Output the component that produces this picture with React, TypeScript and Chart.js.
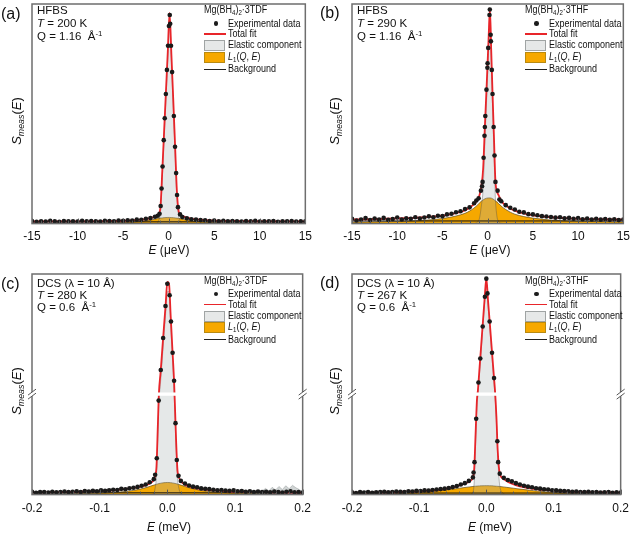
import React, { useEffect, useRef } from "react";
import { Chart, registerables } from "chart.js";

Chart.register(...registerables);

const FONT = '"Liberation Sans", Arial, Helvetica, sans-serif';

// ---------------- Panel (a): HFBS, Mg(BH4)2·3TDF, 200 K ----------------
const gridA = [-15, -12, -9, -7, -5, -4, -3, -2.5, -2, -1.6, -1.3, -1.1, -0.9, -0.7, -0.5, -0.3, -0.1, 0.1, 0.3, 0.5, 0.7, 0.9, 1.1, 1.3, 1.6, 2, 2.5, 3, 4, 5, 7, 9, 12, 15];
const totalA = [0.95, 1.0, 1.05, 1.15, 1.3, 1.5, 1.8, 2.1, 2.5, 3.0, 3.6, 4.4, 7.5, 24, 42, 60, 78, 96, 77, 57, 36, 15, 5.5, 4.2, 3.3, 2.7, 2.2, 1.9, 1.6, 1.4, 1.2, 1.1, 1.0, 1.0];
const elasticA = [0, 0, 0, 0, 0, 0, 0, 0, 0, 0, 0, 1.5, 5, 21, 39, 57, 75, 93, 74, 54, 33, 12.5, 3.5, 0.8, 0, 0, 0, 0, 0, 0, 0, 0, 0, 0];
const l1A = [0.15, 0.2, 0.25, 0.35, 0.5, 0.7, 1.0, 1.3, 1.6, 1.9, 2.2, 2.4, 2.5, 2.6, 2.7, 2.75, 2.8, 2.8, 2.75, 2.7, 2.6, 2.5, 2.4, 2.2, 1.9, 1.6, 1.3, 1.0, 0.7, 0.5, 0.35, 0.25, 0.2, 0.15];
const bgEA = [-15, 15];
const bgSA = [0.8, 0.8];
const expEA = [-15, -14.5, -14, -13.5, -13, -12.5, -12, -11.5, -11, -10.5, -10, -9.5, -9, -8.5, -8, -7.5, -7, -6.5, -6, -5.5, -5, -4.5, -4, -3.5, -3, -2.5, -2, -1.5,
  -1.2, -1.0, -0.88, -0.78, -0.67, -0.54, -0.43, -0.31, -0.19, -0.07, 0.03,
  0.12, 0.17, 0.26, 0.38, 0.57, 0.7, 0.82, 0.92, 1.02, 1.25,
  1.5, 2, 2.5, 3, 3.5, 4, 4.5, 5, 5.5, 6, 6.5, 7, 7.5, 8, 8.5, 9, 9.5, 10, 10.5, 11, 11.5, 12, 12.5, 13, 13.5, 14, 14.5, 15];
const expSA = [1.2, 0.8, 1.1, 0.9, 1.3, 1.0, 0.8, 1.2, 1.0, 1.1, 0.9, 1.3, 1.0, 1.2, 1.1, 0.9, 1.3, 1.2, 1.1, 1.4, 1.3, 1.5, 1.4, 1.8, 1.7, 2.2, 2.5, 3.1,
  3.6, 4.5, 8, 16, 26, 38, 48, 59, 70, 81, 90,
  95, 91, 81, 69, 49, 35, 23, 13, 7.5, 4.2,
  3.0, 2.4, 2.0, 1.8, 1.6, 1.5, 1.2, 1.4, 1.1, 1.3, 1.0, 1.2, 1.1, 0.9, 1.2, 1.0, 1.3, 0.9, 1.1, 1.0, 1.2, 0.8, 1.1, 1.0, 1.2, 0.9, 1.1, 1.0];

// ---------------- Panel (b): HFBS, Mg(BH4)2·3THF, 290 K ----------------
const gridB = [-15, -12, -9, -7, -5, -4, -3, -2.5, -2, -1.6, -1.3, -1.1, -0.9, -0.7, -0.5, -0.3, -0.1, 0.1, 0.25, 0.4, 0.55, 0.7, 0.85, 1.0, 1.2, 1.6, 2, 2.5, 3, 4, 5, 7, 9, 12, 15];
const totalB = [1.9, 2.1, 2.5, 2.9, 3.6, 4.3, 5.3, 6.1, 7.2, 8.5, 9.8, 11, 13, 17, 25, 45, 64, 84, 98, 78, 58, 39, 20, 15, 13, 9.8, 8.3, 6.9, 5.9, 4.6, 3.8, 2.9, 2.4, 2.0, 1.8];
const elasticB = [0, 0, 0, 0, 0, 0, 0, 0, 0, 0, 0.2, 0.8, 2.5, 8, 16, 38, 58, 78, 93, 73, 52, 32, 12, 4, 1, 0.1, 0, 0, 0, 0, 0, 0, 0, 0, 0];
const l1B = [0.6, 0.8, 1.1, 1.5, 2.3, 3.0, 4.0, 4.7, 5.7, 6.8, 7.8, 8.6, 9.4, 10.2, 10.8, 11.3, 11.6, 11.7, 11.7, 11.6, 11.3, 10.9, 10.4, 9.9, 9.1, 7.6, 6.4, 5.2, 4.3, 3.2, 2.5, 1.6, 1.2, 0.9, 0.7];
const bgEB = [-15, 15];
const bgSB = [1.2, 1.2];
const expEB = [-15, -14.5, -14, -13.5, -13, -12.5, -12, -11.5, -11, -10.5, -10, -9.5, -9, -8.5, -8, -7.5, -7, -6.5, -6, -5.5, -5, -4.5, -4, -3.5, -3, -2.5, -2, -1.5,
  -1.25, -1.0, -0.75, -0.62, -0.56, -0.45, -0.35, -0.31, -0.26, -0.13, -0.03, -0.01, 0.06, 0.2, 0.24,
  0.33, 0.36, 0.46, 0.54, 0.66, 0.76, 0.86, 1.1, 1.3,
  1.5, 2, 2.5, 3, 3.5, 4, 4.5, 5, 5.5, 6, 6.5, 7, 7.5, 8, 8.5, 9, 9.5, 10, 10.5, 11, 11.5, 12, 12.5, 13, 13.5, 14, 14.5, 15];
const expSB = [2.2, 1.4, 1.9, 2.5, 1.6, 2.3, 1.8, 2.6, 1.7, 2.1, 2.8, 1.9, 2.4, 2.2, 2.9, 2.3, 2.8, 3.3, 2.9, 3.6, 3.4, 4.2, 4.5, 5.2, 5.6, 6.6, 7.4, 9.3,
  10.5, 11.5, 15, 17, 19, 30, 40, 44, 49, 61, 71, 73, 80, 95, 97.5,
  86, 83, 70, 59, 44, 31, 19, 15, 11,
  10.2, 8.4, 7.2, 6.4, 5.4, 5.1, 4.3, 4.2, 3.8, 3.4, 3.2, 3.0, 2.7, 2.9, 2.4, 2.6, 2.2, 2.5, 2.0, 2.3, 1.9, 2.2, 1.8, 2.1, 1.7, 2.0, 1.6, 1.9];

// ---------------- Panels (c), (d): DCS, lambda = 10 Å ----------------
const gridDCS = [-0.2, -0.16, -0.12, -0.09, -0.07, -0.05, -0.04, -0.03, -0.025, -0.02, -0.018, -0.016, -0.014, -0.0125, -0.01, -0.0075, -0.005, -0.0025, 0, 0.0025, 0.005, 0.0075, 0.01, 0.0115, 0.013, 0.015, 0.017, 0.02, 0.025, 0.03, 0.04, 0.05, 0.07, 0.09, 0.12, 0.16, 0.2];
const tailLeftDCS = [-0.2, -0.194, -0.188, -0.182, -0.176, -0.17, -0.164, -0.158, -0.152, -0.146, -0.14, -0.134, -0.128, -0.122, -0.116, -0.11, -0.104, -0.098, -0.092, -0.086, -0.08, -0.074, -0.068, -0.062, -0.056, -0.05, -0.044, -0.038, -0.032, -0.026, -0.02];
const tailRightDCS = [0.02, 0.026, 0.032, 0.038, 0.044, 0.05, 0.056, 0.062, 0.068, 0.074, 0.08, 0.086, 0.092, 0.098, 0.104, 0.11, 0.116, 0.122, 0.128, 0.134, 0.14, 0.146, 0.152, 0.158, 0.164, 0.17, 0.176, 0.182, 0.188, 0.194, 0.2];

// (c) Mg(BH4)2·3TDF, 280 K
const totalC = [1.0, 1.1, 1.4, 1.8, 2.3, 3.0, 3.6, 4.5, 5.3, 6.7, 8.5, 12.8, 31.4, 45.6, 55.3, 65.6, 76, 86, 96.4, 95.6, 80.7, 65.9, 51.1, 38, 24.4, 11, 8, 6.1, 4.7, 3.9, 3.0, 2.5, 1.9, 1.5, 1.2, 1.0, 0.9];
const elasticC = [0, 0, 0, 0, 0, 0, 0, 0, 0, 0.5, 3, 9, 27, 41.5, 51, 61.5, 72, 82, 92, 92, 77, 62.5, 47, 34, 21, 7.5, 3, 0.6, 0, 0, 0, 0, 0, 0, 0, 0, 0];
const l1C = [0.2, 0.3, 0.5, 0.8, 1.2, 1.9, 2.5, 3.3, 3.8, 4.3, 4.5, 4.7, 4.85, 5.0, 5.15, 5.3, 5.4, 5.45, 5.5, 5.45, 5.4, 5.3, 5.15, 5.05, 4.95, 4.8, 4.6, 4.3, 3.8, 3.3, 2.5, 1.9, 1.2, 0.8, 0.5, 0.3, 0.2];
const bgEC = [-0.2, 0.2];
const bgSC = [0.8, 0.8];
const noiseEC = [0.13, 0.14, 0.145, 0.15, 0.155, 0.16, 0.165, 0.17, 0.175, 0.18, 0.185, 0.19, 0.195, 0.2];
const noiseSC = [0, 1.6, 2.8, 1.7, 3.3, 2.1, 3.7, 2.3, 4.0, 2.7, 4.2, 3.1, 2.3, 1.2];
const tailLeftSC = [1.3, 0.8, 1.1, 1.2, 0.9, 1.3, 1.0, 1.2, 1.4, 1.1, 1.3, 1.5, 1.2, 1.6, 1.4, 1.7, 1.5, 1.9, 1.7, 2.0, 2.2, 2.1, 2.6, 2.4, 2.9, 3.1, 3.5, 4.0, 4.6, 5.6, 7.0];
const peakEC = [-0.018, -0.0156, -0.0128, -0.0097, -0.0062, -0.0027, 0, 0.0034, 0.0054, 0.0078, 0.01, 0.0121, 0.014, 0.0165];
const peakSC = [9, 16.5, 42.6, 56.5, 71, 85.5, 95.6, 90.4, 78.5, 64.3, 51.6, 32.4, 15.7, 8.5];
const tailRightSC = [6.2, 5.0, 4.1, 3.6, 3.3, 2.8, 2.6, 2.5, 2.2, 2.0, 2.1, 1.8, 1.7, 1.9, 1.5, 1.6, 1.3, 1.5, 1.2, 1.4, 1.1, 1.3, 1.0, 1.4, 1.1, 0.9, 1.3, 1.5, 1.0, 1.2, 0.9];

// (d) Mg(BH4)2·3THF, 267 K
const totalD = [0.9, 1.0, 1.3, 1.7, 2.2, 3.3, 4.2, 5.3, 6.0, 7.8, 12, 27.4, 42.9, 47.5, 57.9, 68.3, 78.7, 89, 98.2, 88.1, 78.4, 68.5, 58.6, 52.7, 46.8, 35.5, 19.7, 9.5, 7.3, 6.2, 4.7, 3.7, 2.6, 2.0, 1.4, 1.1, 0.9];
const elasticD = [0, 0, 0, 0, 0, 0, 0, 0, 0, 1, 6, 23, 40, 45, 55.5, 66, 76.5, 87, 95, 86, 76, 66, 56, 50, 44.5, 33, 17, 4, 0.6, 0, 0, 0, 0, 0, 0, 0, 0];
const l1D = [0.1, 0.25, 0.6, 1.2, 1.8, 2.5, 2.9, 3.3, 3.5, 3.7, 3.75, 3.8, 3.85, 3.9, 3.95, 4.0, 4.0, 4.05, 4.05, 4.05, 4.0, 4.0, 3.95, 3.9, 3.85, 3.8, 3.75, 3.7, 3.5, 3.3, 2.9, 2.5, 1.8, 1.2, 0.6, 0.25, 0.1];
const bgED = [-0.2, 0.2];
const bgSD = [0.7, 0.7];
const tailLeftSD = [1.0, 0.7, 1.1, 0.9, 1.2, 0.8, 1.0, 1.1, 1.3, 1.0, 1.2, 1.4, 1.3, 1.2, 1.5, 1.4, 1.7, 1.6, 1.9, 1.8, 2.1, 2.3, 2.5, 2.7, 3.0, 3.4, 3.9, 4.6, 5.2, 6.2, 7.8];
const peakED = [-0.019, -0.0176, -0.0151, -0.0117, -0.009, -0.0054, -0.0021, 0, 0.0017, 0.0049, 0.0085, 0.0115, 0.0164, 0.0176];
const peakSD = [10, 14.7, 34.4, 50.8, 61.7, 76.2, 89.7, 97.9, 91.2, 78.5, 64.3, 52.8, 24.2, 14.7];
const tailRightSD = [9.5, 7.6, 6.6, 6.0, 5.2, 4.6, 4.0, 3.6, 3.3, 2.9, 2.7, 2.4, 2.3, 2.0, 1.9, 1.7, 1.6, 1.5, 1.3, 1.4, 1.2, 1.1, 1.3, 1.0, 1.1, 0.9, 1.0, 1.2, 0.8, 1.0, 0.9];

const BREAK_BAND: [number, number] = [44.8, 46.3];

type PanelDef = {
  key: string;
  left: number; top: number; width: number; height: number;
  padL: number; padR: number; padT: number; tickPad: number;
  xMin: number; xMax: number; step: number; minorStep: number; decimals: number;
  grid: number[]; total: number[]; elastic: number[]; l1: number[];
  bgE: number[]; bgS: number[]; expE: number[]; expS: number[];
  noiseE?: number[]; noiseS?: number[];
  breakBand?: [number, number];
};

const PANELS: PanelDef[] = [
  {
    key: "a", left: 0, top: 0, width: 318, height: 250, padL: 32, padR: 12, padT: 3, tickPad: 6,
    xMin: -15, xMax: 15, step: 5, minorStep: 1, decimals: 0,
    grid: gridA, total: totalA, elastic: elasticA, l1: l1A, bgE: bgEA, bgS: bgSA, expE: expEA, expS: expSA,
  },
  {
    key: "b", left: 318, top: 0, width: 318, height: 250, padL: 34, padR: 9, padT: 3, tickPad: 6,
    xMin: -15, xMax: 15, step: 5, minorStep: 1, decimals: 0,
    grid: gridB, total: totalB, elastic: elasticB, l1: l1B, bgE: bgEB, bgS: bgSB, expE: expEB, expS: expSB,
  },
  {
    key: "c", left: 0, top: 270, width: 318, height: 253, padL: 32, padR: 12, padT: 3, tickPad: 7,
    xMin: -0.2, xMax: 0.2, step: 0.1, minorStep: 0.02, decimals: 1,
    grid: gridDCS, total: totalC, elastic: elasticC, l1: l1C, bgE: bgEC, bgS: bgSC,
    expE: [...tailLeftDCS, ...peakEC, ...tailRightDCS], expS: [...tailLeftSC, ...peakSC, ...tailRightSC],
    noiseE: noiseEC, noiseS: noiseSC, breakBand: BREAK_BAND,
  },
  {
    key: "d", left: 318, top: 270, width: 318, height: 253, padL: 34, padR: 9, padT: 3, tickPad: 7,
    xMin: -0.2, xMax: 0.2, step: 0.1, minorStep: 0.02, decimals: 1,
    grid: gridDCS, total: totalD, elastic: elasticD, l1: l1D, bgE: bgED, bgS: bgSD,
    expE: [...tailLeftDCS, ...peakED, ...tailRightDCS], expS: [...tailLeftSD, ...peakSD, ...tailRightSD],
    breakBand: BREAK_BAND,
  },
];

const pts = (xs: number[], ys: number[]) => xs.map((x, i) => ({ x, y: ys[i] }));

const framePlugin = {
  id: "frame",
  afterDatasetsDraw(chart: any, _args: any, opts: any) {
    const { ctx, chartArea: a, scales } = chart;
    if (opts.breakBand) {
      const yTop = scales.y.getPixelForValue(opts.breakBand[1]);
      const yBot = scales.y.getPixelForValue(opts.breakBand[0]);
      ctx.save();
      ctx.fillStyle = "#ffffff";
      ctx.fillRect(a.left, yTop, a.right - a.left, yBot - yTop);
      ctx.restore();
    }
  },
  afterDraw(chart: any, _args: any, opts: any) {
    const { ctx, chartArea: a, scales } = chart;
    const x = scales.x;
    ctx.save();
    ctx.strokeStyle = "#555555";
    ctx.lineWidth = 1;
    const n = Math.round((opts.xMax - opts.xMin) / opts.minorStep);
    for (let i = 0; i <= n; i++) {
      const v = opts.xMin + i * opts.minorStep;
      const isMajor = Math.abs(v / opts.step - Math.round(v / opts.step)) < 1e-6;
      const px = Math.round(x.getPixelForValue(v)) + 0.5;
      ctx.beginPath();
      ctx.moveTo(px, a.bottom);
      ctx.lineTo(px, a.bottom - (isMajor ? 5 : 3));
      ctx.stroke();
    }
    ctx.strokeStyle = "#6e6e6e";
    ctx.lineWidth = 1.5;
    ctx.strokeRect(a.left, a.top, a.right - a.left, a.bottom - a.top);
    if (opts.breakBand) {
      const yc = (scales.y.getPixelForValue(opts.breakBand[0]) + scales.y.getPixelForValue(opts.breakBand[1])) / 2;
      for (const ax of [a.left, a.right]) {
        ctx.fillStyle = "#ffffff";
        ctx.fillRect(ax - 3, yc - 2, 6, 4);
        ctx.strokeStyle = "#555555";
        ctx.lineWidth = 1;
        for (const dy of [-2, 2]) {
          ctx.beginPath();
          ctx.moveTo(ax - 4, yc + dy + 3);
          ctx.lineTo(ax + 4, yc + dy - 3);
          ctx.stroke();
        }
      }
    }
    ctx.restore();
  },
};

function PanelChart({ p }: { p: PanelDef }) {
  const ref = useRef<HTMLCanvasElement>(null);
  useEffect(() => {
    const datasets: any[] = [
      {
        label: "Experimental data", data: pts(p.expE, p.expS), showLine: false,
        pointRadius: 2.3, pointBackgroundColor: "#1a1a1a", pointBorderColor: "#1a1a1a", pointBorderWidth: 0, order: 0,
      },
      {
        label: "Total fit", data: pts(p.grid, p.total), borderColor: "#e8252a", borderWidth: 1.8,
        pointRadius: 0, cubicInterpolationMode: "monotone", fill: false, order: 1,
      },
      {
        label: "Background", data: pts(p.bgE, p.bgS), borderColor: "#111111", borderWidth: 1,
        pointRadius: 0, fill: false, order: 2,
      },
      {
        label: "Elastic component", data: pts(p.grid, p.elastic), borderColor: "rgba(80,80,80,0.55)", borderWidth: 0.7,
        backgroundColor: "rgba(170,180,180,0.3)", fill: "origin", pointRadius: 0, cubicInterpolationMode: "monotone", order: 3,
      },
      {
        label: "L1", data: pts(p.grid, p.l1), borderColor: "rgba(70,55,15,0.75)", borderWidth: 0.8,
        backgroundColor: "#f6a800", fill: "origin", pointRadius: 0, cubicInterpolationMode: "monotone", order: 4,
      },
    ];
    if (p.noiseE && p.noiseS) {
      datasets.push({
        label: "Elastic noise", data: pts(p.noiseE, p.noiseS), borderColor: "rgba(120,130,130,0.6)", borderWidth: 0.6,
        backgroundColor: "rgba(150,160,160,0.45)", fill: "origin", pointRadius: 0, order: 3,
      });
    }
    const chart = new Chart(ref.current as HTMLCanvasElement, {
      type: "line",
      data: { datasets },
      options: {
        animation: false,
        responsive: false,
        maintainAspectRatio: false,
        events: [],
        layout: { padding: { left: p.padL, right: p.padR, top: p.padT, bottom: 0 } },
        plugins: {
          legend: { display: false },
          tooltip: { enabled: false },
          frame: { xMin: p.xMin, xMax: p.xMax, step: p.step, minorStep: p.minorStep, breakBand: p.breakBand },
        } as any,
        scales: {
          x: {
            type: "linear", min: p.xMin, max: p.xMax, position: "bottom",
            grid: { display: false, drawTicks: false },
            border: { display: false },
            ticks: {
              stepSize: p.step, padding: p.tickPad, color: "#111111", autoSkip: false, maxRotation: 0,
              font: { family: FONT, size: 12 },
              callback: (v: any) => {
                const n = Math.abs(Number(v)) < 1e-9 ? 0 : Number(v);
                return n.toFixed(p.decimals);
              },
            },
          },
          y: { type: "linear", min: 0, max: 100, display: false },
        },
      } as any,
      plugins: [framePlugin as any],
    });
    return () => chart.destroy();
  }, [p]);
  return (
    <canvas
      ref={ref}
      width={p.width}
      height={p.height}
      style={{ position: "absolute", left: p.left, top: p.top, width: p.width, height: p.height }}
    />
  );
}

const Sub = ({ children }: { children: React.ReactNode }) => (
  <span style={{ fontSize: "0.68em", position: "relative", top: "0.3em" }}>{children}</span>
);
const Sup = ({ children }: { children: React.ReactNode }) => (
  <span style={{ fontSize: "0.68em", position: "relative", top: "-0.45em" }}>{children}</span>
);

function T({ x, y, size, children, style }: { x: number; y: number; size: number; children: React.ReactNode; style?: React.CSSProperties }) {
  return (
    <div
      style={{
        position: "absolute", left: x, top: y, fontSize: size, lineHeight: 1, whiteSpace: "nowrap",
        transform: "translateY(-50%)", color: "#111", fontFamily: FONT, ...style,
      }}
    >
      {children}
    </div>
  );
}

type Info = {
  label: string; lx: number; ly: number;
  ax: number; ay: number[]; line1: React.ReactNode; temp: string; q: string;
  sample: string; bx: number; by: number;
  yt: [number, number]; xt: [number, number]; unit: string;
};

const INFO: Info[] = [
  { label: "(a)", lx: 1, ly: 14, ax: 37, ay: [11, 24, 37], line1: "HFBS", temp: "200 K", q: "1.16", sample: "3TDF", bx: 0, by: 0, yt: [16, 121], xt: [169, 250], unit: "μeV" },
  { label: "(b)", lx: 320, ly: 13, ax: 357, ay: [11, 24, 37], line1: "HFBS", temp: "290 K", q: "1.16", sample: "3THF", bx: 320.5, by: 0, yt: [334, 121], xt: [490, 250], unit: "μeV" },
  { label: "(c)", lx: 1, ly: 283.5, ax: 37, ay: [284, 296, 307.5], line1: "DCS (λ = 10 Å)", temp: "280 K", q: "0.6", sample: "3TDF", bx: 0, by: 270.5, yt: [16, 391], xt: [169, 527], unit: "meV" },
  { label: "(d)", lx: 320, ly: 282.5, ax: 357, ay: [284, 296, 307.5], line1: "DCS (λ = 10 Å)", temp: "267 K", q: "0.6", sample: "3THF", bx: 320.5, by: 270.5, yt: [334, 391], xt: [490, 527], unit: "meV" },
];

function Overlay({ i }: { i: Info }) {
  const L = (v: number) => v + i.bx;
  const Y = (v: number) => v + i.by;
  const legText: React.CSSProperties = { transform: "translateY(-50%) scaleX(0.9)", transformOrigin: "left center" };
  return (
    <>
      <T x={i.lx} y={i.ly} size={16}>{i.label}</T>
      <T x={i.ax} y={i.ay[0]} size={11.5}>{i.line1}</T>
      <T x={i.ax} y={i.ay[1]} size={11.5}><i>T</i> = {i.temp}</T>
      <T x={i.ax} y={i.ay[2]} size={11.5}>Q = {i.q}{"\u00a0\u00a0"}Å<Sup>-1</Sup></T>

      <T x={L(204)} y={Y(10)} size={10} style={legText}>Mg(BH<Sub>4</Sub>)<Sub>2</Sub>·3{i.sample.slice(1)}</T>
      <div style={{ position: "absolute", left: L(216) - 2.3, top: Y(23.5) - 2.3, width: 4.6, height: 4.6, borderRadius: "50%", background: "#1c1c1c" }} />
      <T x={L(228)} y={Y(23.5)} size={10} style={legText}>Experimental data</T>
      <div style={{ position: "absolute", left: L(204), top: Y(33.2), width: 22, height: 1.8, background: "#e8252a" }} />
      <T x={L(228)} y={Y(34.3)} size={10} style={legText}>Total fit</T>
      <div style={{ position: "absolute", left: L(204), top: Y(40), width: 19, height: 9, background: "#e6e8e8", border: "1px solid #a0a4a4" }} />
      <T x={L(228)} y={Y(45.3)} size={10} style={legText}>Elastic component</T>
      <div style={{ position: "absolute", left: L(204), top: Y(51.5), width: 19, height: 9, background: "#f6a800", border: "1px solid #b98a10" }} />
      <T x={L(228)} y={Y(56.7)} size={10} style={legText}><i>L</i><Sub>1</Sub>(<i>Q</i>, <i>E</i>)</T>
      <div style={{ position: "absolute", left: L(204), top: Y(68.7), width: 22, height: 1.2, background: "#222" }} />
      <T x={L(228)} y={Y(69.3)} size={10} style={legText}>Background</T>

      <div
        style={{
          position: "absolute", left: i.yt[0], top: i.yt[1], fontFamily: FONT, fontSize: 13, lineHeight: 1,
          whiteSpace: "nowrap", color: "#111", transform: "translate(-50%, -50%) rotate(-90deg)",
        }}
      >
        <i>S</i><Sub><i>meas</i></Sub>(<i>E</i>)
      </div>
      <div
        style={{
          position: "absolute", left: i.xt[0], top: i.xt[1], fontFamily: FONT, fontSize: 12, lineHeight: 1,
          whiteSpace: "nowrap", color: "#111", transform: "translate(-50%, -50%)",
        }}
      >
        <i>E</i> ({i.unit})
      </div>
    </>
  );
}

export default function App() {
  return (
    <div style={{ position: "absolute", left: 0, top: 0, width: 636, height: 534, background: "#ffffff", fontFamily: FONT, overflow: "hidden" }}>
      {PANELS.map((p) => (
        <PanelChart key={p.key} p={p} />
      ))}
      {INFO.map((i) => (
        <Overlay key={i.label} i={i} />
      ))}
    </div>
  );
}
